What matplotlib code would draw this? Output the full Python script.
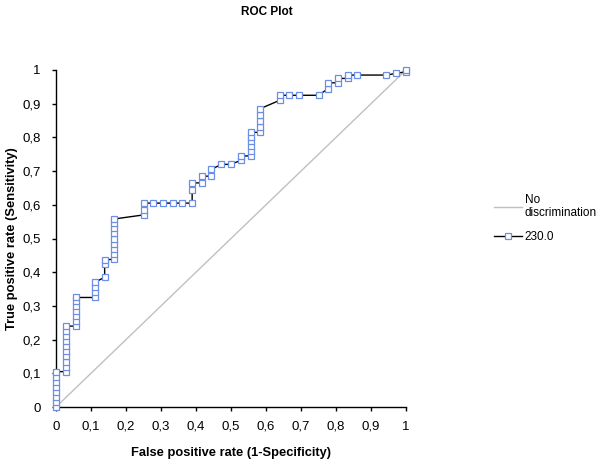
import matplotlib
matplotlib.use("Agg")
import matplotlib.pyplot as plt
from matplotlib.ticker import FuncFormatter

plt.rcParams['font.family'] = ['Liberation Sans', 'DejaVu Sans']

# ROC curve points (false positive rate, true positive rate)
fpr = [0, 0, 0, 0, 0, 0, 0, 0,
       0.028, 0.028, 0.028, 0.028, 0.028, 0.028, 0.028, 0.028, 0.028, 0.028,
       0.056, 0.056, 0.056, 0.056, 0.056, 0.056, 0.056,
       0.111, 0.111, 0.111, 0.111,
       0.139, 0.139, 0.139,
       0.167, 0.167, 0.167, 0.167, 0.167, 0.167, 0.167, 0.167, 0.167,
       0.250, 0.250, 0.250,
       0.278, 0.306, 0.333, 0.361, 0.389,
       0.389, 0.389,
       0.417, 0.417,
       0.444, 0.444,
       0.472, 0.500,
       0.528, 0.528,
       0.556, 0.556, 0.556, 0.556, 0.556, 0.556,
       0.583, 0.583, 0.583, 0.583, 0.583,
       0.639, 0.639,
       0.667, 0.694, 0.750,
       0.778, 0.778,
       0.806, 0.806,
       0.833, 0.833,
       0.861, 0.944, 0.972,
       1.000, 1.000]
tpr = [0, 0.015, 0.030, 0.045, 0.060, 0.075, 0.090, 0.105,
       0.105, 0.120, 0.135, 0.150, 0.165, 0.180, 0.195, 0.210, 0.225, 0.240,
       0.240, 0.255, 0.270, 0.285, 0.300, 0.315, 0.325,
       0.325, 0.340, 0.355, 0.370,
       0.385, 0.425, 0.435,
       0.440, 0.455, 0.470, 0.485, 0.500, 0.515, 0.530, 0.545, 0.558,
       0.570, 0.585, 0.605,
       0.605, 0.605, 0.605, 0.605, 0.605,
       0.645, 0.665,
       0.665, 0.685,
       0.685, 0.705,
       0.720, 0.720,
       0.732, 0.745,
       0.745, 0.760, 0.775, 0.790, 0.800, 0.815,
       0.815, 0.830, 0.850, 0.865, 0.885,
       0.910, 0.925,
       0.925, 0.925, 0.925,
       0.945, 0.962,
       0.962, 0.975,
       0.975, 0.985,
       0.985, 0.985, 0.990,
       0.995, 1.000]

diag_x = [0, 1]
diag_y = [0, 1]

ticks = [0, 0.1, 0.2, 0.3, 0.4, 0.5, 0.6, 0.7, 0.8, 0.9, 1.0]

fig = plt.figure(figsize=(6.0, 4.62), dpi=100)
ax = fig.add_axes([56/600, 1-407/462, 350/600, 337/462])

l1, = ax.plot(diag_x, diag_y, color='#c0c0c0', lw=1.0, label='No\ndiscrimination')
l2, = ax.plot(fpr, tpr, color='black', lw=1.0, marker='s', markersize=5,
              markerfacecolor='white', markeredgecolor='#6b8fe6', markeredgewidth=0.9,
              label='230.0', clip_on=False, zorder=3)

ax.set_xlim(0, 1)
ax.set_ylim(0, 1)
ax.set_xticks(ticks)
ax.set_yticks(ticks)

def fmt(v, pos):
    s = ('%.1f' % v)
    if s.endswith('.0'):
        s = s[:-2]
    return s.replace('.', ',')

ax.xaxis.set_major_formatter(FuncFormatter(fmt))
ax.yaxis.set_major_formatter(FuncFormatter(fmt))
ax.tick_params(direction='out', length=3, width=1, labelsize=9.5)
ax.tick_params(axis='x', pad=7)
ax.tick_params(axis='y', pad=8)
for s in ['top', 'right']:
    ax.spines[s].set_visible(False)
for s in ['left', 'bottom']:
    ax.spines[s].set_linewidth(1.0)

ax.set_xlabel('False positive rate (1-Specificity)', fontsize=9.3, fontweight='bold', labelpad=10)
ax.set_ylabel('True positive rate (Sensitivity)', fontsize=9.3, fontweight='bold', labelpad=3)

fig.text(267/600, 1-12/462, 'ROC Plot', fontsize=8.5, fontweight='bold', ha='center', va='center')

leg = fig.legend(handles=[l1, l2], loc='upper left', bbox_to_anchor=(483/600, 1-183/462),
                 frameon=False, fontsize=8.5, handlelength=2.4, handletextpad=0.25,
                 labelspacing=1.0)

fig.savefig('out.png', dpi=100)
